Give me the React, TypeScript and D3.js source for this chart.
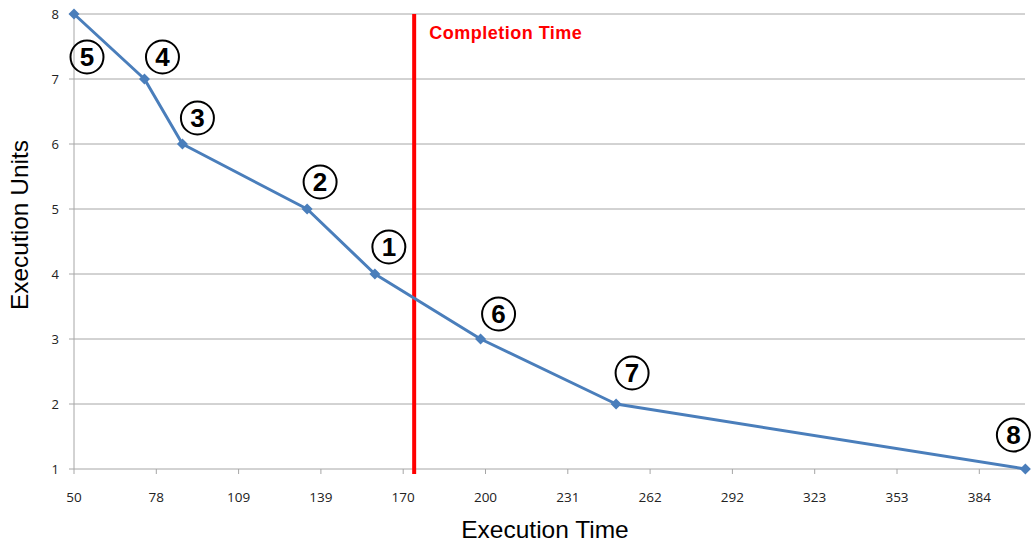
import React from "react";
import * as d3 from "d3";

const execTime = [50, 76, 90, 136, 161, 200, 250, 401];
const execUnits = [8, 7, 6, 5, 4, 3, 2, 1];
const stepLabels = ["5", "4", "3", "2", "1", "6", "7", "8"];
const xTickLabels = ["50", "78", "109", "139", "170", "200", "231", "262", "292", "323", "353", "384"];
const yTicks = [1, 2, 3, 4, 5, 6, 7, 8];
const completionTime = 175.5;
// label offsets (pixels) relative to each point
const labelOffsets: [number, number][] = [
  [13, 43], [18, -22], [15, -26], [13, -27], [14, -27], [18, -25], [16, -31], [-12, -34],
];

const W = 1031, H = 546;
const left = 74, right = 1025, top = 14, bottom = 469;

export default function App() {
  const xStep = (384 - 50) / 11;
  const xTickVals = xTickLabels.map((_, i) => 50 + i * xStep);
  const x = d3.scaleLinear().domain([50, 384]).range([left, 979.3]);
  const y = d3.scaleLinear().domain([1, 8]).range([bottom, top]);
  const line = d3.line<number>().x((_, i) => x(execTime[i])).y((d) => y(d));
  const pts = execUnits.map((u, i) => [x(execTime[i]), y(u)]);
  const font = "'Liberation Sans', Arial, sans-serif";
  const tickFont = "'Open Sans', 'Liberation Sans', sans-serif";
  const cx = x(completionTime);
  return (
    <svg width={W} height={H} style={{ position: "absolute", left: 0, top: 0, background: "#fff" }}>
      {yTicks.map((t) => (
        <g key={t}>
          <line x1={left} x2={right} y1={y(t)} y2={y(t)} stroke="#a6a6a6" strokeWidth={1} />
          <line x1={left - 5} x2={left} y1={y(t)} y2={y(t)} stroke="#a6a6a6" strokeWidth={1} />
          <text x={left - 15} y={y(t)} dy="0.35em" textAnchor="end" fontFamily={tickFont} fontSize={13} fill="#222">{t}</text>
        </g>
      ))}
      <line x1={left} x2={left} y1={top} y2={bottom} stroke="#a6a6a6" strokeWidth={1} />
      {xTickVals.map((v, i) => (
        <g key={i}>
          <line x1={x(v)} x2={x(v)} y1={bottom} y2={bottom + 5} stroke="#a6a6a6" strokeWidth={1} />
          <text x={x(v)} y={497} dy="0.35em" textAnchor="middle" fontFamily={tickFont} fontSize={13.5} fill="#222">{xTickLabels[i]}</text>
        </g>
      ))}
      <line x1={cx} x2={cx} y1={top} y2={bottom + 5} stroke="#ff0000" strokeWidth={4} />
      <text x={cx + 15} y={39} fontFamily={font} fontWeight="bold" fontSize={18} letterSpacing={0.5} fill="#ff0000">Completion Time</text>
      <path d={line(execUnits) || ""} fill="none" stroke="#4a7ebb" strokeWidth={3} strokeLinejoin="round" />
      {pts.map(([px, py], i) => (
        <path key={i} d={`M${px},${py - 5.5}L${px + 5.5},${py}L${px},${py + 5.5}L${px - 5.5},${py}Z`} fill="#4a7ebb" />
      ))}
      {pts.map(([px, py], i) => {
        const lx = px + labelOffsets[i][0];
        const ly = py + labelOffsets[i][1];
        return (
          <g key={"l" + i}>
            <circle cx={lx} cy={ly} r={16.5} fill="none" stroke="#000" strokeWidth={2} />
            <text x={lx} y={ly} dy="0.36em" textAnchor="middle" fontFamily={font} fontWeight="bold" fontSize={26} fill="#000">{stepLabels[i]}</text>
          </g>
        );
      })}
      <text x={545} y={538} textAnchor="middle" fontFamily={font} fontSize={24.5} fill="#000">Execution Time</text>
      <text transform={`translate(28, 225) rotate(-90)`} textAnchor="middle" fontFamily={font} fontSize={24.5} fill="#000">Execution Units</text>
    </svg>
  );
}
